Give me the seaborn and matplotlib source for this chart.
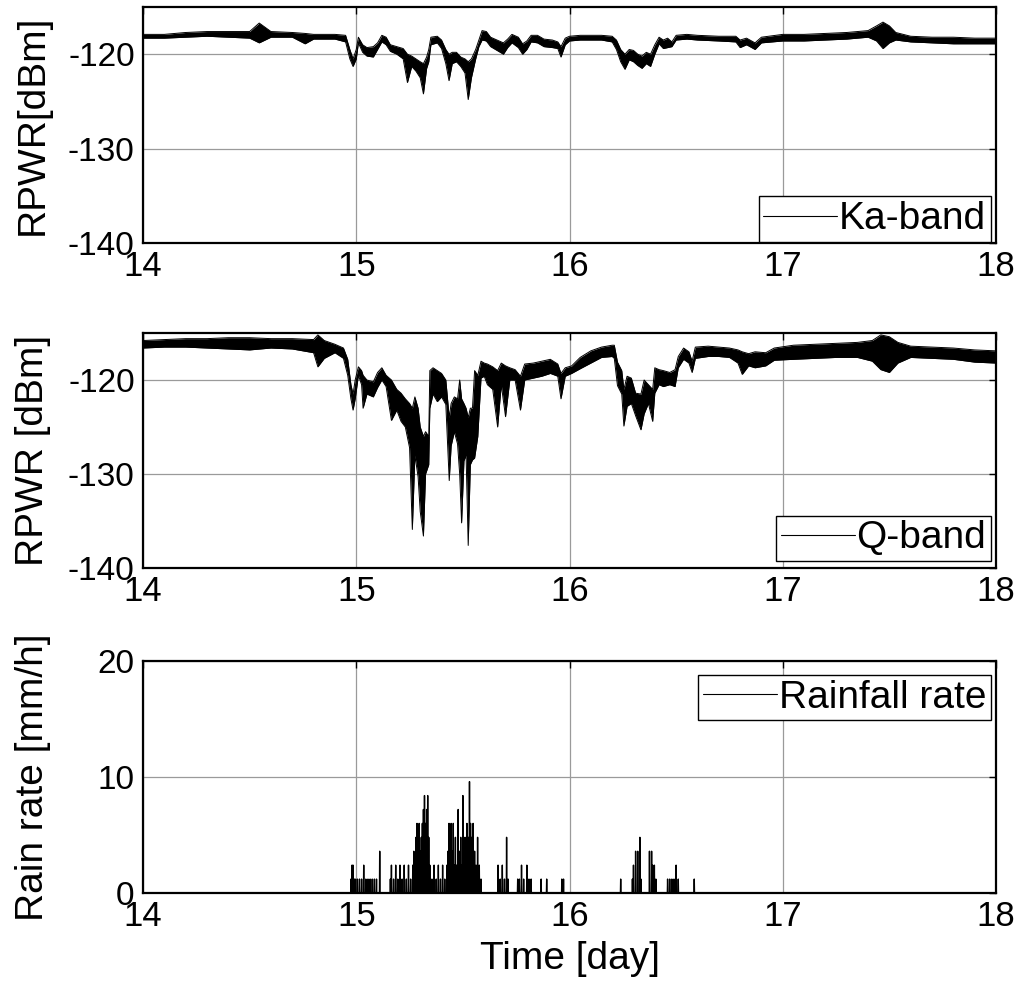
import numpy as np
import pandas as pd
import matplotlib
matplotlib.use("Agg")
import matplotlib.pyplot as plt
import seaborn as sns
from matplotlib.lines import Line2D

# ---------------- data ----------------
# Ka-band received power: time [day], upper / lower extent of the noisy trace [dBm]
ka_t = [14.00, 14.10, 14.20, 14.30, 14.40, 14.50, 14.545, 14.60, 14.70, 14.76, 14.80, 14.90, 14.95,
        14.97, 14.985, 15.00, 15.01, 15.03, 15.05, 15.08, 15.10, 15.12, 15.14, 15.16, 15.19, 15.22,
        15.24, 15.26, 15.28, 15.30, 15.315, 15.33, 15.34, 15.35, 15.38, 15.40, 15.42, 15.435, 15.45,
        15.47, 15.49, 15.51, 15.525, 15.54, 15.56, 15.575, 15.59, 15.61, 15.63, 15.66, 15.69, 15.71,
        15.73, 15.76, 15.78, 15.80, 15.82, 15.85, 15.88, 15.92, 15.945, 15.96, 15.98, 16.00, 16.05,
        16.10, 16.15, 16.20, 16.22, 16.24, 16.26, 16.28, 16.30, 16.32, 16.34, 16.36, 16.38, 16.40,
        16.42, 16.44, 16.46, 16.48, 16.50, 16.55, 16.60, 16.70, 16.78, 16.80, 16.83, 16.87, 16.90,
        17.00, 17.10, 17.20, 17.30, 17.40, 17.44, 17.47, 17.50, 17.53, 17.60, 17.70, 17.80, 17.90, 18.00]
ka_hi = [-117.9, -117.9, -117.7, -117.6, -117.6, -117.6, -116.7, -117.6, -117.7, -117.8, -117.9, -117.9, -118.0,
         -119.5, -120.5, -119.5, -118.2, -119.0, -119.3, -119.2, -118.8, -118.0, -118.2, -119.0, -119.2, -119.4,
         -120.0, -120.2, -120.5, -120.8, -121.0, -120.3, -119.5, -118.2, -118.1, -118.5, -119.5, -120.0, -119.8,
         -119.8, -120.3, -120.5, -120.8, -120.5, -119.5, -118.5, -117.5, -117.6, -118.2, -118.5, -118.8, -118.4,
         -117.9, -118.2, -118.9, -118.6, -118.0, -118.0, -118.4, -118.5, -118.7, -119.2, -118.3, -118.1, -118.0,
         -118.0, -118.0, -118.1, -118.5, -119.5, -120.0, -119.5, -119.6, -120.0, -120.2, -119.8, -120.0, -119.0,
         -118.2, -118.5, -118.3, -118.7, -118.0, -117.9, -118.0, -118.1, -118.1, -118.5, -118.3, -118.8, -118.2,
         -117.9, -117.9, -117.8, -117.7, -117.5, -117.0, -116.6, -117.0, -117.7, -118.1, -118.2, -118.2, -118.3, -118.3]
ka_lo = [-118.3, -118.3, -118.2, -118.1, -118.2, -118.3, -118.8, -118.2, -118.2, -118.9, -118.4, -118.4, -118.7,
         -120.5, -121.3, -120.5, -118.8, -119.8, -120.2, -120.3, -119.5, -118.7, -119.0, -119.7, -120.0, -120.5,
         -123.0, -121.3, -121.8, -122.5, -124.2, -121.5, -120.8, -119.0, -118.8, -119.4, -121.0, -122.8, -121.0,
         -120.8, -121.3, -122.0, -124.8, -122.5, -120.5, -119.2, -118.5, -118.6, -119.2, -119.6, -120.0, -119.3,
         -118.8, -119.3, -120.0, -119.5, -118.7, -118.8, -119.2, -119.3, -119.4, -120.3, -119.0, -118.6, -118.5,
         -118.5, -118.5, -118.7, -119.5, -120.8, -121.6, -120.6, -120.8, -121.2, -121.5, -121.0, -121.3, -120.0,
         -118.9, -119.4, -119.3, -119.2, -118.5, -118.4, -118.5, -118.6, -118.7, -119.3, -119.0, -119.5, -118.8,
         -118.6, -118.6, -118.5, -118.4, -118.2, -118.6, -119.4, -118.8, -118.5, -118.7, -118.8, -118.9, -118.9, -118.9]

# Q-band received power
q_t = [14.00, 14.10, 14.20, 14.30, 14.40, 14.50, 14.60, 14.70, 14.80, 14.82, 14.85, 14.90, 14.94, 14.96,
       14.975, 14.985, 14.995, 15.01, 15.025, 15.032, 15.05, 15.08, 15.10, 15.12, 15.14, 15.165, 15.19,
       15.21, 15.23, 15.25, 15.263, 15.275, 15.29, 15.30, 15.315, 15.325, 15.34, 15.345, 15.36, 15.38,
       15.40, 15.42, 15.436, 15.445, 15.46, 15.475, 15.485, 15.494, 15.505, 15.515, 15.525, 15.535, 15.545,
       15.555, 15.57, 15.585, 15.60, 15.615, 15.64, 15.663, 15.68, 15.70, 15.72, 15.745, 15.77, 15.79,
       15.83, 15.87, 15.91, 15.945, 15.96, 15.98, 16.01, 16.05, 16.10, 16.15, 16.20, 16.21, 16.225, 16.245,
       16.255, 16.27, 16.29, 16.31, 16.335, 16.35, 16.37, 16.39, 16.40, 16.42, 16.44, 16.47, 16.495, 16.51,
       16.535, 16.56, 16.575, 16.59, 16.65, 16.70, 16.75, 16.79, 16.81, 16.84, 16.87, 16.92, 16.96, 17.05,
       17.15, 17.25, 17.35, 17.42, 17.46, 17.50, 17.54, 17.60, 17.70, 17.80, 17.90, 18.00]
q_hi = [-115.8, -115.7, -115.6, -115.6, -115.5, -115.5, -115.6, -115.6, -115.7, -115.2, -115.8, -116.2, -116.6, -117.8,
        -120.5, -121.5, -120.0, -118.6, -119.0, -119.5, -120.0, -120.2, -119.2, -118.7, -119.5, -120.0, -121.0,
        -121.4, -122.0, -122.5, -123.0, -121.8, -123.0, -125.0, -126.0, -125.5, -126.0, -119.0, -118.7, -119.0,
        -119.3, -120.0, -124.0, -122.5, -121.8, -122.0, -120.0, -122.0, -122.5, -123.0, -124.0, -123.0, -123.0,
        -119.0, -119.5, -118.0, -118.2, -118.3, -118.6, -119.0, -118.2, -118.5, -118.7, -118.9, -119.6, -118.3,
        -118.2, -118.0, -117.8, -118.3, -119.3, -118.7, -118.5, -117.6, -116.9, -116.5, -116.3, -116.3, -118.1, -119.0,
        -121.0, -119.6, -119.8, -121.4, -121.5, -120.0, -120.5, -121.0, -118.7, -118.9, -119.0, -119.2, -118.9, -117.5,
        -116.6, -117.0, -118.0, -116.5, -116.4, -116.5, -116.6, -116.8, -117.0, -117.2, -117.0, -117.1, -116.6, -116.3,
        -116.2, -116.1, -116.0, -115.8, -115.2, -115.4, -116.0, -116.4, -116.5, -116.6, -116.8, -116.9]
q_lo = [-116.6, -116.5, -116.5, -116.6, -116.7, -116.8, -116.6, -116.7, -117.1, -118.6, -117.7, -117.1, -117.7, -119.5,
        -122.0, -123.2, -122.0, -119.5, -120.5, -123.0, -121.5, -121.8, -120.8, -120.0, -120.7, -124.3, -123.2,
        -124.4, -125.0, -127.2, -135.9, -128.0, -130.3, -134.0, -136.6, -130.0, -129.0, -123.0, -121.5, -122.3,
        -121.8, -122.6, -130.7, -127.0, -125.5, -126.8, -130.0, -135.2, -128.6, -128.0, -137.6, -129.0, -128.5,
        -128.3, -126.0, -119.8, -119.6, -120.5, -121.0, -125.0, -120.5, -123.9, -120.0, -120.0, -123.2, -120.0,
        -119.8, -119.6, -119.3, -119.6, -122.0, -119.6, -119.3, -118.8, -118.2, -117.6, -117.5, -117.7, -120.6, -121.5,
        -124.9, -122.8, -122.5, -123.8, -125.3, -123.6, -122.5, -124.4, -121.4, -120.5, -120.7, -120.5, -120.7, -118.7,
        -117.8, -118.2, -119.2, -117.7, -117.5, -117.5, -117.6, -118.2, -119.4, -118.5, -118.7, -118.5, -117.9, -117.8,
        -117.7, -117.6, -117.6, -118.0, -118.9, -119.2, -118.2, -117.6, -117.7, -117.8, -118.1, -118.2]

# Rainfall rate: tip times [day] and rates [mm/h] (zero elsewhere)
rain_t = [14.975, 14.98, 14.985, 14.99, 14.995, 15.005, 15.015, 15.025, 15.035, 15.045, 15.055, 15.065, 15.075,
          15.085, 15.095, 15.11, 15.16, 15.165, 15.175, 15.185, 15.195, 15.205, 15.215, 15.225, 15.235, 15.245,
          15.255, 15.265, 15.27, 15.275, 15.28, 15.285, 15.29, 15.295, 15.30, 15.305, 15.31, 15.315, 15.32,
          15.325, 15.33, 15.335, 15.34, 15.345, 15.355, 15.365, 15.375, 15.385, 15.395, 15.405, 15.415, 15.425,
          15.43, 15.435, 15.44, 15.445, 15.45, 15.455, 15.46, 15.465, 15.47, 15.478, 15.485, 15.49, 15.495,
          15.50, 15.505, 15.51, 15.515, 15.519, 15.525, 15.531, 15.536, 15.542, 15.548, 15.555, 15.562, 15.569,
          15.577, 15.585, 15.665, 15.675, 15.685, 15.695, 15.705, 15.712, 15.757, 15.765, 15.775, 15.785, 15.80,
          15.81, 15.82, 15.867, 15.893, 15.964, 15.972, 16.24, 16.295, 16.30, 16.31, 16.32, 16.33, 16.335,
          16.375, 16.385, 16.39, 16.398, 16.405, 16.46, 16.47, 16.48, 16.49, 16.50, 16.51, 16.585]
rain_v = [1.2, 2.4, 2.4, 1.2, 1.2, 1.2, 1.2, 1.2, 2.4, 1.2, 1.2, 1.2, 1.2,
          1.2, 1.2, 3.6, 1.2, 2.4, 1.2, 2.4, 1.2, 2.4, 1.2, 2.4, 1.2, 2.4,
          1.2, 2.4, 3.6, 2.4, 4.8, 6.0, 4.8, 6.0, 3.6, 4.8, 6.0, 7.2, 8.4,
          6.0, 7.2, 8.4, 4.8, 2.4, 1.2, 2.4, 1.2, 2.4, 1.2, 2.4, 1.2, 2.4,
          3.6, 6.0, 4.8, 6.0, 3.6, 6.0, 2.4, 4.8, 2.4, 7.2, 3.6, 4.8, 2.4,
          8.4, 3.6, 4.8, 2.4, 6.0, 4.8, 9.6, 6.0, 4.8, 6.0, 3.6, 2.4, 4.8,
          2.4, 1.2, 2.4, 1.2, 2.4, 1.2, 4.8, 1.2, 1.2, 1.2, 2.4, 1.2, 2.4,
          1.2, 1.2, 1.2, 1.2, 1.2, 1.2, 1.2, 1.2, 2.4, 3.6, 3.6, 4.8, 1.2,
          3.6, 3.6, 2.4, 2.4, 1.2, 1.2, 1.2, 1.2, 1.2, 2.4, 1.2, 1.2]

x_ticks = [14, 15, 16, 17, 18]
rpwr_ticks = [-140, -130, -120]
rain_ticks = [0, 10, 20]

# ---------------- style ----------------
sns.set_theme(style="white")
plt.rcParams["font.family"] = ["Liberation Sans", "DejaVu Sans"]
plt.rcParams["text.color"] = "black"
plt.rcParams["axes.labelcolor"] = "black"
plt.rcParams["xtick.color"] = "black"
plt.rcParams["ytick.color"] = "black"

FS_TICK_Y = 24
FS_TICK_X = 25
FS_LABEL = 28
FS_LEG = 28

fig = plt.figure(figsize=(10.19, 9.83), dpi=100)
L, W = 143 / 1019, 853 / 1019
ax1 = fig.add_axes([L, 1 - 243 / 983, W, 236 / 983])
ax2 = fig.add_axes([L, 1 - 568 / 983, W, 235 / 983])
ax3 = fig.add_axes([L, 1 - 893 / 983, W, 232 / 983])


def make_legend(ax, label, loc, anchor):
    handle = Line2D([0], [0], color="black", linewidth=0.8)
    leg = ax.legend([handle], [label], loc=loc, bbox_to_anchor=anchor, fontsize=FS_LEG,
                    frameon=True, fancybox=False, handlelength=1.9, handletextpad=0.05,
                    borderpad=0.12, borderaxespad=0.0, edgecolor="black", framealpha=1)
    leg.get_frame().set_linewidth(1.0)
    for t in leg.get_texts():
        t.set_color("black")


def style_axis(ax, yticks, ylim, ylabel):
    ax.set_xlim(14, 18)
    ax.set_ylim(*ylim)
    ax.set_xticks(x_ticks)
    ax.set_yticks(yticks)
    ax.set_xticklabels([str(v) for v in x_ticks])
    ax.set_yticklabels([str(v) for v in yticks])
    ax.grid(True, color="#9a9a9a", linewidth=0.9, linestyle="-")
    ax.set_axisbelow(True)
    ax.tick_params(axis="both", direction="in", top=True, right=True, length=5,
                   width=1, color="black", labelcolor="black")
    ax.tick_params(axis="x", labelsize=FS_TICK_X, pad=5)
    ax.tick_params(axis="y", labelsize=FS_TICK_Y, pad=6)
    for s in ax.spines.values():
        s.set_color("black")
        s.set_linewidth(1.6)
        s.set_visible(True)
    ax.set_ylabel(ylabel, fontsize=FS_LABEL, color="black")
    ax.set_xlabel("")
    ax.yaxis.set_label_coords(-0.108, 0.5)


def envelope(ax, t, hi, lo):
    df = pd.DataFrame({"t": t, "hi": hi, "lo": lo})
    ax.fill_between(df["t"], df["lo"], df["hi"], color="black", linewidth=0, zorder=2)
    sns.lineplot(data=df, x="t", y="hi", ax=ax, color="black", linewidth=0.7,
                 estimator=None, sort=False, zorder=3)
    sns.lineplot(data=df, x="t", y="lo", ax=ax, color="black", linewidth=0.7,
                 estimator=None, sort=False, zorder=3)


envelope(ax1, ka_t, ka_hi, ka_lo)
style_axis(ax1, rpwr_ticks, (-140, -115), "RPWR[dBm]")
make_legend(ax1, "Ka-band", "lower right", (0.994, 0.005))

envelope(ax2, q_t, q_hi, q_lo)
style_axis(ax2, rpwr_ticks, (-140, -115), "RPWR [dBm]")
make_legend(ax2, "Q-band", "lower right", (0.994, 0.03))

# rainfall: each tip drawn as a narrow spike from zero
eps = 0.0012
rx, ry = [14.0], [0.0]
for t, v in zip(rain_t, rain_v):
    rx += [t - eps, t, t + eps]
    ry += [0.0, v, 0.0]
rx.append(18.0)
ry.append(0.0)
rain_df = pd.DataFrame({"t": rx, "rate": ry})
sns.lineplot(data=rain_df, x="t", y="rate", ax=ax3, color="black", linewidth=1.0,
             estimator=None, sort=False, zorder=3)
style_axis(ax3, rain_ticks, (0, 20), "Rain rate [mm/h]")
make_legend(ax3, "Rainfall rate", "upper right", (0.994, 0.94))
ax3.set_xlabel("Time [day]", fontsize=FS_LABEL, labelpad=6, color="black")

fig.savefig("out.png", dpi=100)
